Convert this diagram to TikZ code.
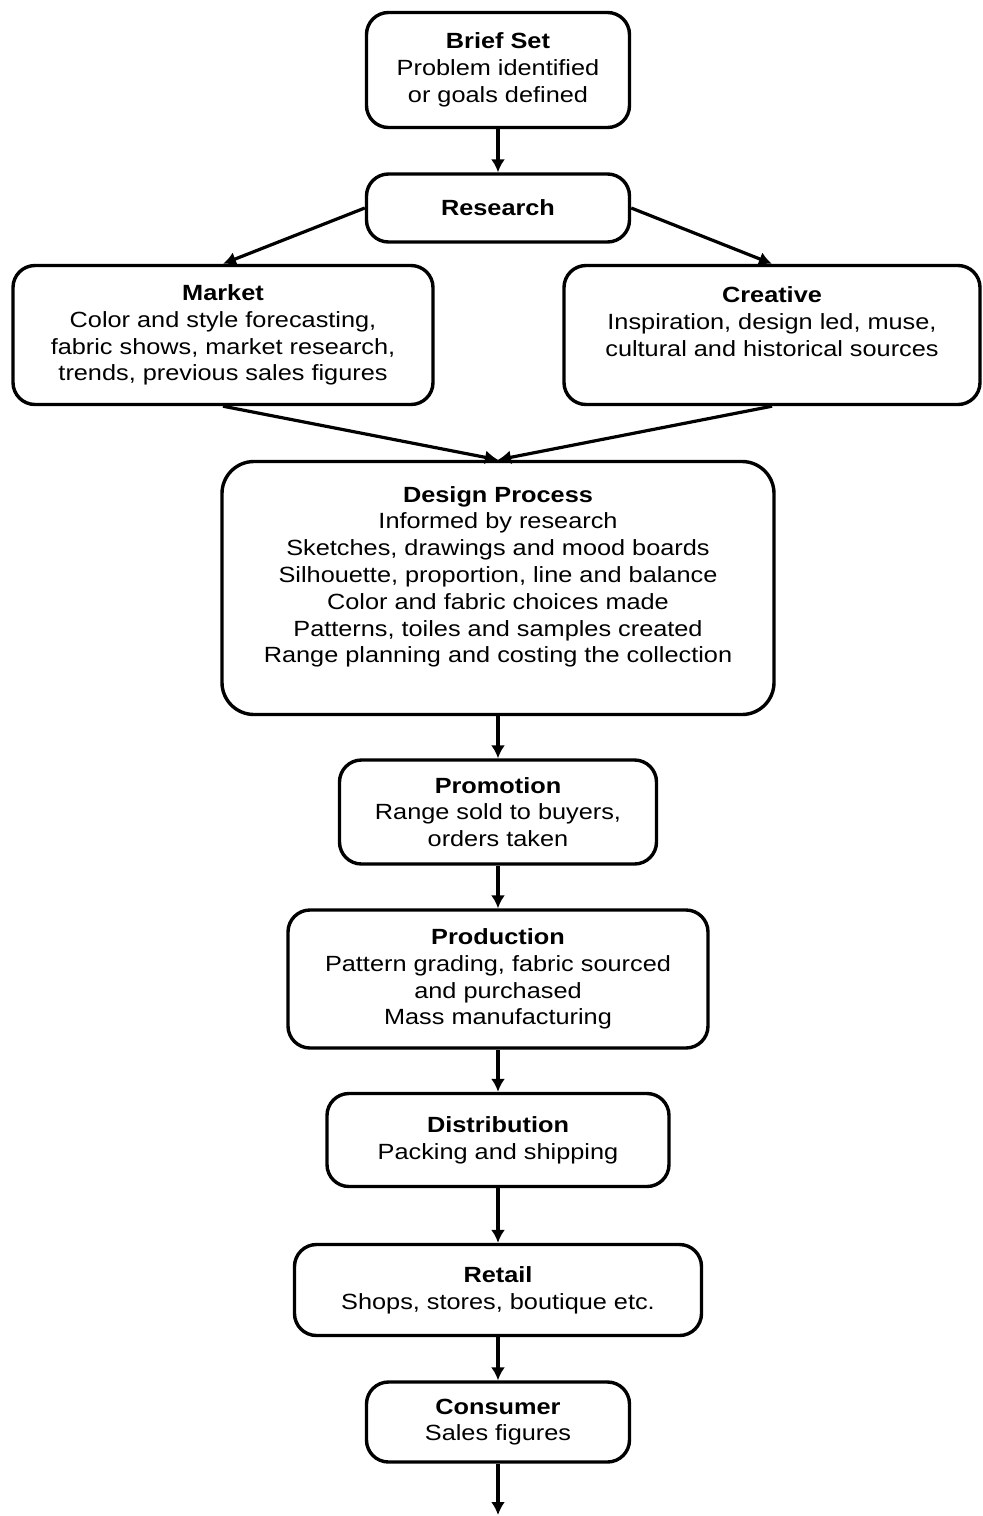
\documentclass[tikz,border=0pt]{standalone}
\usepackage{fontspec}
\setmainfont{Liberation Sans}[FakeStretch=1.15]
\usetikzlibrary{arrows.meta}

\begin{document}
\begin{tikzpicture}[
	x=0.5pt, y=-0.5pt,
	stage/.style={draw, line width=1.7pt, rounded corners=11pt, align=center, inner sep=2pt,
		font=\fontsize{11}{13.4}\selectfont},
	flow/.style={line width=1.6pt, -{Latex[length=6.5pt, width=7pt]}}
	]

	\def\cx{498} % centre line of the chart

	\useasboundingbox (0,0) rectangle (982,1516);

	% top of the chart
	\node[stage, minimum width=131.5pt, minimum height=57.5pt] (brief) at (\cx,70)
		{\textbf{Brief Set}\\Problem identified\\or goals defined};
	\node[stage, minimum width=131.5pt, minimum height=34pt] (research) at (\cx,208)
		{\textbf{Research}};

	% the two kinds of research
	\node[stage, minimum width=210pt, minimum height=69.5pt] (market) at (223,335)
		{\textbf{Market}\\Color and style forecasting,\\fabric shows, market research,\\trends, previous sales figures};
	\node[stage, minimum width=208pt, minimum height=69.5pt] (creative) at (772,335)
		{\textbf{Creative}\\Inspiration, design led, muse,\\cultural and historical sources\\~};

	\node[stage, minimum width=276pt, minimum height=126.5pt, rounded corners=16pt] (design) at (\cx,588)
		{\textbf{Design Process}\\Informed by research\\Sketches, drawings and mood boards\\Silhouette, proportion, line and balance\\Color and fabric choices made\\Patterns, toiles and samples created\\Range planning and costing the collection\\~};

	% from the range to the shop
	\node[stage, minimum width=158.5pt, minimum height=52pt] (promotion) at (\cx,812)
		{\textbf{Promotion}\\Range sold to buyers,\\orders taken};
	\node[stage, minimum width=210pt, minimum height=69pt] (production) at (\cx,979)
		{\textbf{Production}\\Pattern grading, fabric sourced\\and purchased\\Mass manufacturing};
	\node[stage, minimum width=171pt, minimum height=46.5pt] (distribution) at (\cx,1140)
		{\textbf{Distribution}\\Packing and shipping};
	\node[stage, minimum width=203.5pt, minimum height=45.5pt] (retail) at (\cx,1290)
		{\textbf{Retail}\\Shops, stores, boutique etc.};
	\node[stage, minimum width=131.5pt, minimum height=40pt] (consumer) at (\cx,1422)
		{\textbf{Consumer}\\Sales figures};
	\coordinate (next) at (\cx,1515);

	% connectors
	\draw[flow] (brief) -- (research);
	\draw[flow] (research.west) -- (market.north);
	\draw[flow] (research.east) -- (creative.north);
	\draw[flow] (market.south) -- (design.north);
	\draw[flow] (creative.south) -- (design.north);
	\draw[flow] (design) -- (promotion);
	\draw[flow] (promotion) -- (production);
	\draw[flow] (production) -- (distribution);
	\draw[flow] (distribution) -- (retail);
	\draw[flow] (retail) -- (consumer);
	\draw[flow] (consumer) -- (next);

\end{tikzpicture}
\end{document}
